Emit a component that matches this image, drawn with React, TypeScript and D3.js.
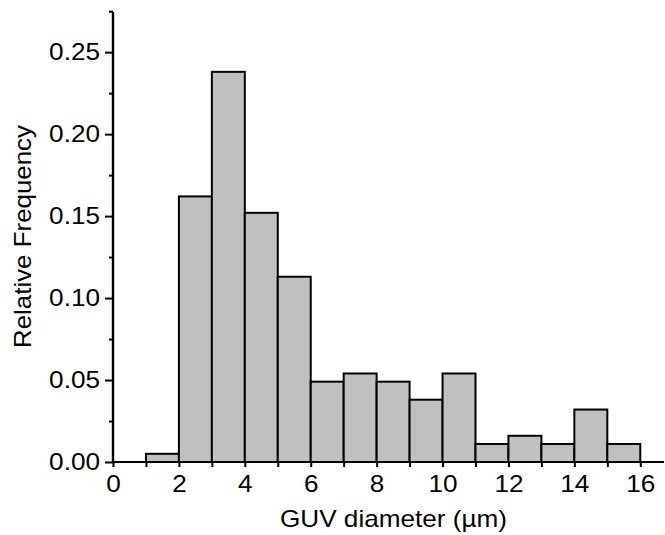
import { useRef, useEffect } from 'react';
import * as d3 from 'd3';

// histogram bins (µm) and relative frequencies
const binStarts = [1, 2, 3, 4, 5, 6, 7, 8, 9, 10, 11, 12, 13, 14, 15];
const frequencies = [0.005, 0.162, 0.238, 0.152, 0.113, 0.049, 0.054, 0.049, 0.038, 0.054, 0.011, 0.016, 0.011, 0.032, 0.011];
const xTicks = [0, 2, 4, 6, 8, 10, 12, 14, 16];
const xMinorTicks = [1, 3, 5, 7, 9, 11, 13, 15];
const yTicks = [0, 0.05, 0.1, 0.15, 0.2, 0.25];
const yMinorTicks = [0.025, 0.075, 0.125, 0.175, 0.225, 0.275];

const W = 665;
const H = 535;
const FONT = '"Liberation Sans", Arial, Helvetica, sans-serif';
const SX = 1.09; // glyphs in the original are a bit wider than Arial

export default function App(): JSX.Element {
  const svgRef = useRef<SVGSVGElement | null>(null);

  useEffect(() => {
    if (!svgRef.current) return;
    const svg = d3.select(svgRef.current);
    svg.selectAll('*').remove();

    const x = d3.scaleLinear().domain([0, 16.72]).range([113, 664]);
    const y = d3.scaleLinear().domain([0, 0.2745]).range([462, 12]);

    // bars
    svg.append('g')
      .selectAll('rect')
      .data(binStarts)
      .join('rect')
      .attr('x', (d) => x(d))
      .attr('width', (d) => x(d + 1) - x(d))
      .attr('y', (d, i) => y(frequencies[i]))
      .attr('height', (d, i) => y(0) - y(frequencies[i]))
      .attr('fill', '#c0c0c0')
      .attr('stroke', '#000')
      .attr('stroke-width', 2);

    // x axis
    const xAxis = svg.append('g').attr('transform', `translate(0,${y(0)})`);
    xAxis.append('g')
      .call(d3.axisBottom(x).tickValues(xMinorTicks).tickSize(5).tickFormat(() => ''));
    xAxis.append('g')
      .call(d3.axisBottom(x).tickValues(xTicks).tickSize(5).tickPadding(8).tickFormat(d3.format('d')));
    xAxis.selectAll('.domain').attr('stroke-width', 2.2).attr('d', `M${x(0)},0H${x(16.72)}`);
    xAxis.selectAll('.tick line').attr('stroke-width', 2);
    xAxis.selectAll('text')
      .attr('font-size', 24)
      .attr('font-family', FONT)
      .attr('fill', '#000')
      .attr('transform', `scale(${SX},1)`);

    // y axis
    const yAxis = svg.append('g').attr('transform', `translate(${x(0)},0)`);
    yAxis.append('g')
      .call(d3.axisLeft(y).tickValues(yMinorTicks).tickSize(4).tickFormat(() => ''));
    yAxis.append('g')
      .call(d3.axisLeft(y).tickValues(yTicks).tickSize(8).tickFormat(d3.format('.2f')));
    yAxis.selectAll('.domain').attr('stroke-width', 2.2).attr('d', `M0,${y(0.2745)}V${y(0)}`);
    yAxis.selectAll('.tick line').attr('stroke-width', 2);
    yAxis.selectAll('text')
      .attr('font-size', 24)
      .attr('font-family', FONT)
      .attr('fill', '#000')
      .attr('x', -13 / SX)
      .attr('transform', `scale(${SX},1)`);

    // axis titles
    svg.append('text')
      .attr('x', 280)
      .attr('y', 527)
      .attr('font-size', 24)
      .attr('font-family', FONT)
      .attr('textLength', 227)
      .attr('lengthAdjust', 'spacingAndGlyphs')
      .text('GUV diameter (µm)');

    svg.append('text')
      .attr('transform', 'translate(31,348) rotate(-90)')
      .attr('font-size', 24)
      .attr('font-family', FONT)
      .attr('textLength', 223)
      .attr('lengthAdjust', 'spacingAndGlyphs')
      .text('Relative Frequency');
  }, []);

  return (
    <svg
      ref={svgRef}
      width={W}
      height={H}
      style={{ position: 'absolute', left: 0, top: 0, background: '#fff' }}
    />
  );
}
